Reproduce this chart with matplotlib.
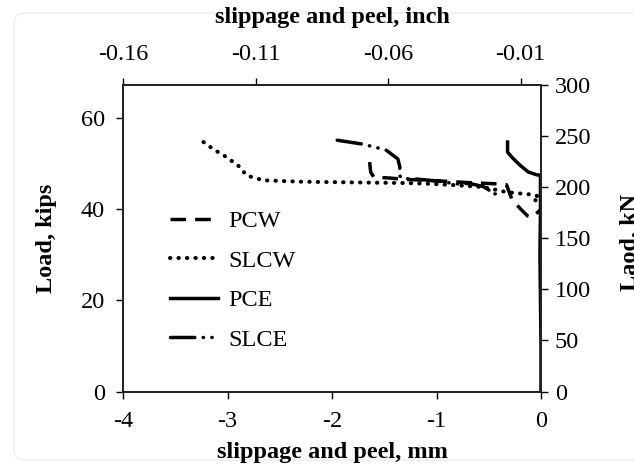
import numpy as np
import matplotlib
matplotlib.use("Agg")
import matplotlib.pyplot as plt
from matplotlib.patches import FancyBboxPatch

plt.rcParams['font.family'] = ['Liberation Serif', 'DejaVu Serif']
plt.rcParams['axes.unicode_minus'] = False

# slippage (mm) vs load (kips)
pcw_x = [-1.64, -1.63, -1.60, -1.45, -1.30, -1.00, -0.70, -0.40, -0.33,
         -0.28, -0.20, -0.13, -0.09, -0.04, 0.0]
pcw_y = [50.4, 48.2, 47.1, 46.9, 46.6, 46.3, 45.9, 45.6, 45.4,
         42.3, 40.2, 38.6, 38.3, 39.2, 40.0]

slcw_x = [-3.23, -3.14, -3.01, -2.88, -2.82, -2.72, -2.66, -2.31, -2.00,
          -1.67, -1.30, -1.03, -0.80, -0.55, -0.33, -0.20, -0.10, -0.04,
          -0.02, -0.04, -0.07]
slcw_y = [54.8, 53.3, 51.5, 49.3, 47.5, 46.8, 46.4, 46.1, 46.0,
          45.9, 45.8, 45.6, 45.3, 44.9, 43.8, 43.5, 43.3, 43.0,
          42.4, 41.8, 42.3]

pce_x = [-0.32, -0.32, -0.28, -0.20, -0.12, -0.04, -0.005, -0.005, -0.01,
         -0.005, 0.0, 0.0]
pce_y = [54.8, 52.6, 51.5, 49.7, 48.2, 47.6, 47.5, 40.0, 30.0,
         20.0, 10.0, 0.0]

slce_x = [-1.95, -1.72, -1.59, -1.48, -1.37, -1.35, -1.36, -1.33, -1.20,
          -0.94, -0.82, -0.68, -0.55, -0.50, -0.47, -0.42, -0.40]
slce_y = [55.2, 54.4, 53.7, 53.0, 51.1, 49.3, 47.6, 46.8, 46.7,
          46.1, 45.6, 45.7, 45.0, 44.3, 43.3, 43.5, 44.2]

mm_ticks = [-4, -3, -2, -1, 0]
kips_ticks = [0, 20, 40, 60]
kn_ticks = [0, 50, 100, 150, 200, 250, 300]
inch_ticks = [-0.16, -0.11, -0.06, -0.01]
inch_labels = ['-0.16', '-0.11', '-0.06', '-0.01']

fs = 17.5
fig = plt.figure(figsize=(6.34, 4.69), dpi=100)
ax = fig.add_axes([123 / 634, 1 - 391.5 / 469, 418 / 634, 307 / 469])

lw = 2.5
ax.plot(pcw_x, pcw_y, color='black', lw=lw, linestyle=(0, (4.5, 2.6)), label='PCW')
ax.plot(slcw_x, slcw_y, color='black', lw=2.9, linestyle=(0, (0.1, 2.0)),
        dash_capstyle='round', label='SLCW')
ax.plot(pce_x, pce_y, color='black', lw=lw, linestyle='-', label='PCE')
ax.plot(slce_x, slce_y, color='black', lw=lw,
        linestyle=(0, (7, 2.4, 0.1, 2.4, 0.1, 2.4)), dash_capstyle='round',
        label='SLCE')

ax.set_xlim(-4, 0)
ax.set_ylim(0, 300 / 4.448)
ax.set_xticks(mm_ticks)
ax.set_yticks(kips_ticks)
ax.tick_params(axis='x', direction='out', length=5, width=1, labelsize=fs, pad=9)
ax.tick_params(axis='y', direction='out', length=5, width=1, labelsize=fs, pad=8)
ax.set_xlabel('slippage and peel, mm', fontsize=fs, fontweight='bold', labelpad=7)
ax.set_ylabel('Load, kips', fontsize=fs, fontweight='bold', labelpad=17)

ax_top = ax.twiny()
ax_top.set_xlim(-0.16, -0.0023)
ax_top.set_xticks(inch_ticks)
ax_top.set_xticklabels(inch_labels)
ax_top.tick_params(direction='out', length=5, width=1, labelsize=fs, pad=9)
ax_top.set_xlabel('slippage and peel, inch', fontsize=fs, fontweight='bold', labelpad=15)

ax_right = ax.twinx()
ax_right.set_ylim(0, 300)
ax_right.set_yticks(kn_ticks)
ax_right.tick_params(direction='out', length=5, width=1, labelsize=fs, pad=5)

for a in (ax, ax_top, ax_right):
    for s in a.spines.values():
        s.set_linewidth(1.1)
        s.set_color('#222222')

fig.text(620 / 634, 1 - 242 / 469, 'Laod, kN', rotation=90, fontsize=fs,
         fontweight='bold', ha='left', va='center')

ax.legend(loc='center left', bbox_to_anchor=(0.112, 0.362), frameon=False,
          fontsize=fs, handlelength=2.0, handletextpad=0.4, labelspacing=0.72,
          borderpad=0, borderaxespad=0)

card = FancyBboxPatch((14 / 634, 1 - 460 / 469), 1.2, 447 / 469,
                      boxstyle='round,pad=0,rounding_size=0.02',
                      transform=fig.transFigure, facecolor='none',
                      edgecolor='#ececec', lw=1, zorder=-1)
fig.patches.append(card)

fig.savefig('out.png', dpi=100)
